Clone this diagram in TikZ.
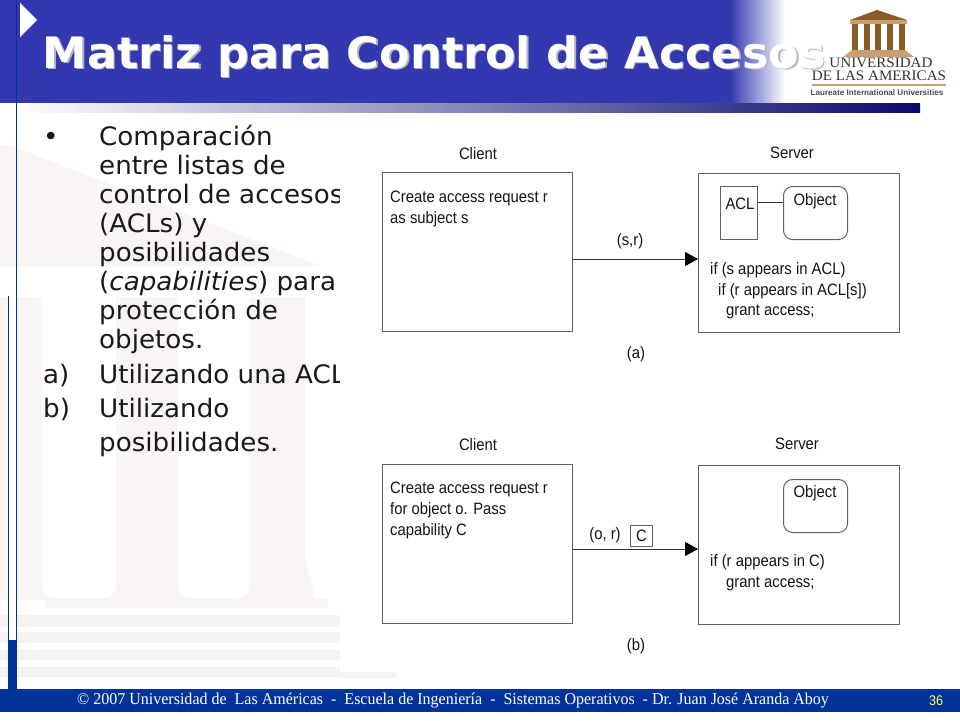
\documentclass[tikz,border=0pt]{standalone}
\usepackage{fontspec}
\setmainfont{DejaVu Sans}[FakeStretch=1.03]
\newfontfamily\diagfont[FakeStretch=0.90]{Liberation Sans}
\newfontfamily\footfont[FakeStretch=0.97]{Liberation Serif}
\newfontfamily\logofont[FakeStretch=1.04]{Liberation Serif}
\newfontfamily\laurfont{Liberation Sans}
\definecolor{hdrblue}{HTML}{3238B0}
\definecolor{ftblue}{HTML}{003399}
\definecolor{wm}{HTML}{F8F5F4}
\definecolor{wmb}{HTML}{F6F2F1}
\definecolor{brownA}{HTML}{8A5A28}
\definecolor{tanA}{HTML}{C79F72}
\definecolor{barmid}{HTML}{B4B4C4}
\definecolor{barend}{HTML}{0A0A6E}
\definecolor{shadowc}{HTML}{B4B4BC}
\definecolor{pagenum}{HTML}{FFFF66}
\tikzset{
  x=1pt,y=-1pt,
  txt/.style={anchor=base west,inner sep=0pt,font=\fontsize{25.4}{30}\selectfont,text=black!90},
  dlabel/.style={inner sep=0pt,yshift=-1.2pt,font=\diagfont\fontsize{16.5}{18}\selectfont,text=black!92},
  dline/.style={dlabel,anchor=west},
  dbox/.style={draw=black!62,line width=1.3pt,fill=white,anchor=north west,inner sep=0pt},
  aclbox/.style={dbox,line width=1pt},
  objbox/.style={dbox,line width=1pt,rounded corners=9pt},
  conn/.style={draw=black!80,line width=1pt},
  flow/.style={conn,-{Triangle[length=13pt,width=14pt,fill=black,color=black]}},
  ttl/.style={anchor=base west,inner sep=0pt,font=\bfseries\fontsize{43.3}{46}\selectfont}
}
\usetikzlibrary{arrows.meta}
\begin{document}
\begin{tikzpicture}
\useasboundingbox (0,0) rectangle (960,720);
\fill[white] (0,0) rectangle (960,720);
% watermark
\fill[wm] (0,145) -- (17,148) -- (320,266) -- (0,266) -- cycle;
\fill[wm] (0,297) rectangle (305,600);
\fill[wm] (305,560) -- (313,590) -- (313,600) -- (305,600) -- cycle;
\fill[white,rounded corners=12pt] (42,290) rectangle (116,598);
\fill[white,rounded corners=12pt] (178,290) rectangle (250,598);
\fill[white] (42,285) rectangle (116,300);
\fill[white] (178,285) rectangle (250,300);
\fill[wm] (45,598) rectangle (328,608);
\foreach \ya/\yb in {615/627,632/643,650/660,667/677}{\fill[wmb] (0,\ya) rectangle (340,\yb);}
% body text
\node[txt] (b0) at (43,145) {•};
\node[txt] (l1) at (99,145) {Comparación};
\node[txt] (l2) at (99,174) {entre listas de};
\node[txt] (l3) at (99,203) {control de accesos};
\node[txt] (l4) at (99,232) {(ACLs) y};
\node[txt] (l5) at (99,261) {posibilidades};
\node[txt] (l6) at (99,290) {(\textit{capabilities}) para};
\node[txt] (l7) at (99,319) {protección de};
\node[txt] (l8) at (99,348) {objetos.};
\node[txt] (a0) at (43,383) {a)};
\node[txt] (l9) at (99,383) {Utilizando una ACL};
\node[txt] (c0) at (43,417) {b)};
\node[txt] (l10) at (99,417) {Utilizando};
\node[txt] (l11) at (99,451) {posibilidades.};
% diagram sheet
\fill[white] (340,112) rectangle (960,689);
\fill[wmb] (340,672) rectangle (397,678);
% header
\fill[hdrblue] (0,0) rectangle (731,103);
\shade[left color=hdrblue,right color=white] (730,0) rectangle (785,103);
\fill[white] (785,0) rectangle (960,103);
\shade[left color=white,middle color=barmid,right color=barend] (16,103) rectangle (920,112);
\fill[white] (20,3) -- (37,20) -- (20,37) -- cycle;
% left rules
\fill[white] (8,296) rectangle (16,640);
\fill[ftblue] (8,640) rectangle (17,689);
\draw[ftblue,line width=.9pt] (16.5,0) -- (16.5,689);
\draw[ftblue,line width=.9pt] (8,296) -- (8,689);
% title
\node[ttl,text=shadowc] (tsh) at (44,69.5) {Matriz para Control de Accesos};
\node[ttl,text=white] (tt) at (42.5,68) {Matriz para Control de Accesos};
% logo
\fill[brownA] (877,10) -- (907,20) -- (850,20) -- cycle;
\fill[tanA] (850,20) rectangle (907,24);
\foreach \cx in {855,867,878,890,902}{\fill[brownA] (\cx-3,24) rectangle (\cx+3,50);}
\fill[tanA] (852,50) -- (905,50) -- (914,57) -- (843,57) -- cycle;
\node[anchor=base,inner sep=0pt,font=\logofont\fontsize{14.5}{16}\selectfont,text=black!80] (u1) at (881,67) {UNIVERSIDAD};
\node[anchor=base,inner sep=0pt,font=\logofont\fontsize{14.5}{16}\selectfont,text=black!80] (u2) at (879,80) {DE LAS AMERICAS};
\fill[tanA] (812,84) rectangle (946,85.5);
\node[anchor=base,inner sep=0pt,font=\laurfont\bfseries\fontsize{8.1}{10}\selectfont,text=black!70] (u3) at (877,95) {Laureate International Universities};
% diagram (a)
\node[dlabel] (cta) at (478,152) {Client};
\node[dlabel] (sta) at (792,152) {Server};
\node[dbox,minimum width=190pt,minimum height=159pt] (ca) at (382,172) {};
\node[dbox,minimum width=201pt,minimum height=159pt] (sa) at (698,173) {};
\node[aclbox,minimum width=37pt,minimum height=53pt] (acl) at (720,186) {};
\node[objbox,minimum width=64pt,minimum height=53pt] (obja) at (783,186) {};
\node[dlabel] (acllab) at (740,203) {ACL};
\node[dlabel] (objlaba) at (815,200) {Object};
\coordinate (yc) at (0,202);
\draw[conn] (acl.east |- yc) -- (obja.west |- yc);
\coordinate (ya) at (0,259);
\draw[flow] (ca.east |- ya) -- (sa.west |- ya);
\node[dline] (ta1) at (390,197) {Create access request r};
\node[dline] (ta2) at (390,218) {as subject s};
\node[dlabel] (sr) at (630,240) {(s,r)};
\node[dline] (sa1) at (710,269) {if (s appears in ACL)};
\node[dline] (sa2) at (718,290) {if (r appears in ACL[s])};
\node[dline] (sa3) at (726,311) {grant access;};
\node[dlabel] (capa) at (636,353) {(a)};
% diagram (b)
\node[dlabel] (ctb) at (478,443) {Client};
\node[dlabel] (stb) at (797,443) {Server};
\node[dbox,minimum width=190pt,minimum height=159pt] (cb) at (382,464) {};
\node[dbox,minimum width=201pt,minimum height=159pt] (sb) at (698,465) {};
\node[objbox,minimum width=64pt,minimum height=53pt] (objb) at (783,479) {};
\node[dlabel] (objlabb) at (815,492) {Object};
\coordinate (yb) at (0,549);
\draw[flow] (cb.east |- yb) -- (sb.west |- yb);
\node[dline] (tb1) at (390,488) {Create access request r};
\node[dline] (tb2) at (390,509) {for object o. Pass};
\node[dline] (tb3) at (390,530) {capability C};
\node[dlabel] (or) at (605,534) {(o, r)};
\node[aclbox,minimum width=22pt,minimum height=21pt,font=\diagfont\fontsize{16.5}{18}\selectfont,text=black!92] (capc) at (630,525) {C};
\node[dline] (sb1) at (710,561) {if (r appears in C)};
\node[dline] (sb2) at (726,583) {grant access;};
\node[dlabel] (capb) at (636,645) {(b)};
% footer
\fill[ftblue] (0,689) rectangle (960,712);
\node[anchor=west,inner sep=0pt,text=white,font=\footfont\fontsize{16.5}{18}\selectfont] (foot) at (77,701) {© 2007 Universidad de\ \ Las Américas\ \ -\ \ Escuela de Ingeniería\ \ -\ \ Sistemas Operativos\ \ -\ Dr. Juan José Aranda Aboy};
\node[inner sep=0pt,text=pagenum,font=\diagfont\fontsize{14}{15}\selectfont] (pg) at (936,701) {36};
\end{tikzpicture}
\end{document}
